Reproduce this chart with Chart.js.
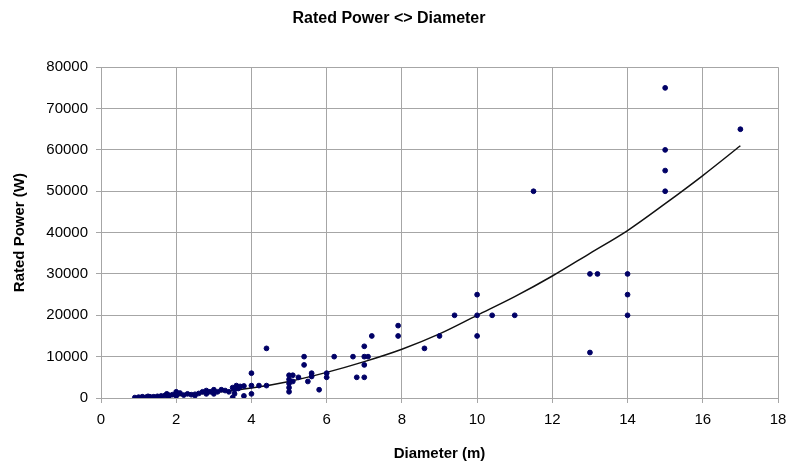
<!DOCTYPE html>
<html>
<head>
<meta charset="utf-8">
<title>Rated Power &lt;&gt; Diameter</title>
<script src="https://cdn.jsdelivr.net/npm/chart.js@4.4.1/dist/chart.umd.min.js"></script>
<style>
    html, body { margin: 0; padding: 0; background: #ffffff; }
    #wrap { width: 790px; height: 470px; }
</style>
</head>
<body>
<div id="wrap"><canvas id="powerChart" width="790" height="470"></canvas></div>
<script>
// Turbine data: diameter (m) and rated power (W)
const diameters = [
    0.9, 1.0, 1.1, 1.2, 1.25, 1.3, 1.4, 1.5, 1.5, 1.6, 1.7, 1.75, 1.8, 1.8, 1.9,
    2.0, 2.0, 2.0, 2.1, 2.2, 2.3, 2.4, 2.5, 2.5, 2.6, 2.7, 2.8, 2.8, 2.9, 3.0,
    3.0, 3.1, 3.2, 3.3, 3.4,
    3.5, 3.5, 3.55, 3.55, 3.6, 3.65, 3.7, 3.8, 3.8, 4.0, 4.0, 4.0, 4.2, 4.4, 4.4,
    5.0, 5.0, 5.0, 5.0, 5.0, 5.1, 5.1, 5.25, 5.4, 5.4, 5.5, 5.6, 5.6, 5.8, 6.0,
    6.0, 6.2,
    6.7, 6.8, 7.0, 7.0, 7.0, 7.0, 7.1, 7.2, 7.9, 7.9,
    8.6, 9.0, 9.4, 10, 10, 10, 10.4, 11, 11.5, 13, 13.2, 13, 14, 14, 14,
    15, 15, 15, 15, 17
];
const ratedPower = [
    100, 200, 300, 200, 400, 300, 300, 400, 200, 500, 600, 1000, 300, 700, 800,
    1500, 1000, 500, 1200, 700, 1000, 800, 900, 600, 1100, 1500, 1000, 1800, 1500, 2000,
    1000, 1500, 2000, 1800, 1500,
    100, 2500, 2000, 1000, 3000, 2300, 2800, 500, 2900, 6000, 3000, 1000, 3000, 3000, 12000,
    5500, 4500, 3500, 2500, 1500, 5500, 4000, 5000, 10000, 8000, 4000, 6000, 5200, 2000, 6000,
    5000, 10000,
    10000, 5000, 5000, 8000, 10000, 12500, 10000, 15000, 17500, 15000,
    12000, 15000, 20000, 25000, 20000, 15000, 20000, 20000, 50000, 30000, 30000, 11000, 30000, 25000, 20000,
    75000, 60000, 55000, 50000, 65000
];

// Trend curve at a few diameters
const trendDiameters = [0.9, 2, 3, 4, 5, 6, 7, 8, 9, 10, 11, 12, 13, 14, 15, 16, 17];
const trendPower = [100, 500, 1300, 2400, 4000, 6200, 8800, 11800, 15500, 20000, 24500, 29500, 35000, 40500, 47000, 53800, 61000];

// Axis ranges
const xTicks = { min: 0, max: 18, step: 2 };
const yTicks = { min: 0, max: 80000, step: 10000 };

const gridColor = '#a6a6a6';
const fontFamily = "'Liberation Sans', Arial, sans-serif";

function toPoints(xs, ys) {
    return xs.map((x, i) => ({ x: x, y: ys[i] }));
}

function initializeChart() {
    const ctx = document.getElementById('powerChart').getContext('2d');
    new Chart(ctx, {
        type: 'scatter',
        data: {
            datasets: [{
                label: 'Rated Power',
                data: toPoints(diameters, ratedPower),
                backgroundColor: '#000066',
                borderColor: '#000066',
                pointRadius: 2.4,
                pointHoverRadius: 3
            }, {
                label: 'Trend',
                data: toPoints(trendDiameters, trendPower),
                showLine: true,
                borderColor: '#111111',
                borderWidth: 1.5,
                pointRadius: 0,
                cubicInterpolationMode: 'monotone',
                fill: false
            }]
        },
        options: {
            responsive: false,
            animation: false,
            layout: { padding: { left: 0, right: 12, top: 0, bottom: 0 } },
            plugins: {
                legend: { display: false },
                tooltip: { enabled: false },
                title: {
                    display: true,
                    text: 'Rated Power <> Diameter',
                    color: '#000000',
                    font: { family: fontFamily, size: 16, weight: 'bold' },
                    padding: { top: 9, bottom: 39 }
                }
            },
            scales: {
                x: {
                    type: 'linear',
                    min: xTicks.min,
                    max: xTicks.max,
                    afterFit: scale => {
                        scale.height = 72;
                        // let the last tick label hang into the right margin
                        scale.paddingLeft = 0;
                        scale.paddingRight = 0;
                    },
                    ticks: {
                        stepSize: xTicks.step,
                        color: '#000000',
                        padding: 8,
                        font: { family: fontFamily, size: 15 }
                    },
                    grid: { color: gridColor, tickColor: gridColor, tickLength: 5 },
                    border: { color: gridColor },
                    title: {
                        display: true,
                        text: 'Diameter (m)',
                        color: '#000000',
                        font: { family: fontFamily, size: 15, weight: 'bold' },
                        padding: { top: 0, bottom: 7 }
                    }
                },
                y: {
                    type: 'linear',
                    min: yTicks.min,
                    max: yTicks.max,
                    afterFit: scale => { scale.width = 101; },
                    ticks: {
                        stepSize: yTicks.step,
                        color: '#000000',
                        padding: 8,
                        font: { family: fontFamily, size: 15 },
                        callback: value => String(value)
                    },
                    grid: { color: gridColor, tickColor: gridColor, tickLength: 5 },
                    border: { color: gridColor },
                    title: {
                        display: true,
                        text: 'Rated Power (W)',
                        color: '#000000',
                        font: { family: fontFamily, size: 15, weight: 'bold' },
                        padding: { top: 11, bottom: 0 }
                    }
                }
            }
        }
    });
}

initializeChart();
</script>
</body>
</html>
